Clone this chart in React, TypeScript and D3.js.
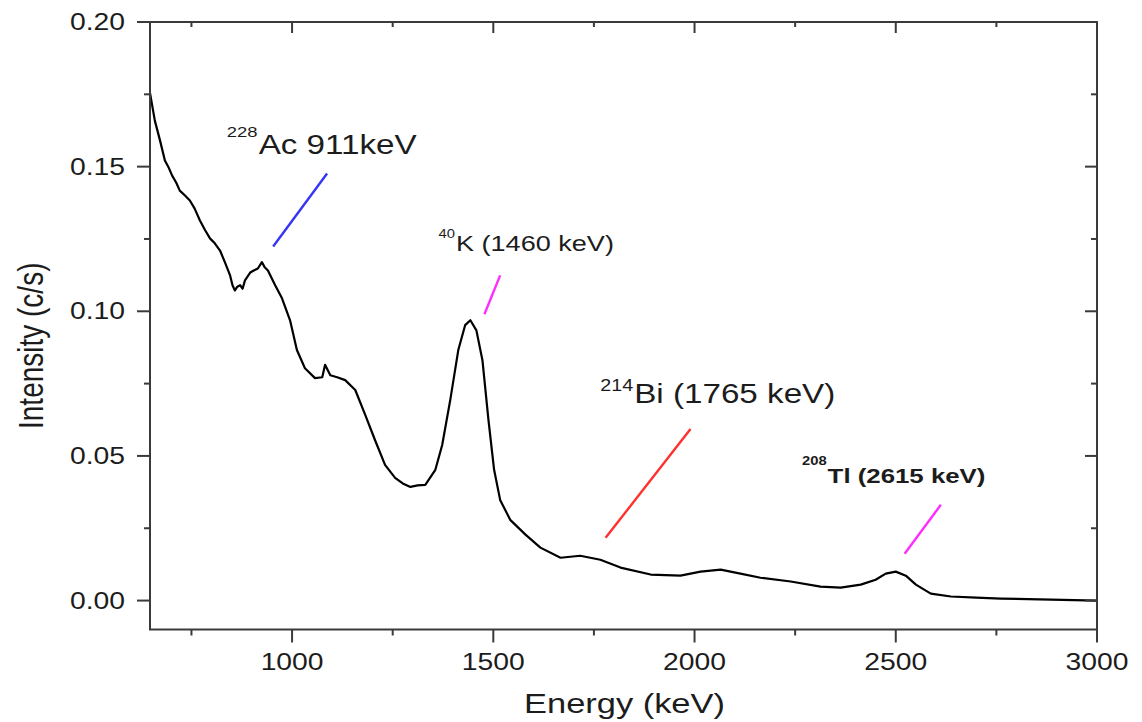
import React from 'react';
import * as d3 from 'd3';

// spectrum: energy (keV) and intensity (c/s)
const energy = [
  647, 659, 672, 684, 694, 702, 712, 721, 734, 746, 758, 771, 784, 796, 808, 821, 833, 846, 852, 858, 864, 871,
  877, 883, 896, 906, 915, 925, 932, 940, 958, 975, 995, 1012, 1032, 1057, 1075, 1082, 1095, 1112, 1132, 1157,
  1182, 1206, 1231, 1256, 1275, 1294, 1312, 1331, 1356, 1373, 1393, 1413, 1430, 1443, 1458, 1473, 1488, 1502,
  1517, 1542, 1580, 1617, 1667, 1716, 1766, 1816, 1891, 1965, 2015, 2065, 2114, 2164, 2239, 2313, 2363, 2413,
  2450, 2475, 2500, 2525, 2550, 2587, 2637, 2700, 2761, 2886, 3000,
];
const intensity = [
  0.1755, 0.1659, 0.159, 0.1521, 0.1495, 0.1469, 0.1445, 0.1417, 0.14, 0.1383, 0.1355, 0.1314, 0.128, 0.1252,
  0.1235, 0.121, 0.117, 0.1124, 0.109, 0.1072, 0.1085, 0.109, 0.1078, 0.1107, 0.1134, 0.1142, 0.1148, 0.117,
  0.1152, 0.1141, 0.109, 0.1045, 0.0969, 0.0866, 0.0803, 0.0769, 0.0772, 0.0815, 0.0779, 0.0772, 0.0762, 0.0728,
  0.0641, 0.0555, 0.0469, 0.0424, 0.0405, 0.0393, 0.0398, 0.04, 0.0452, 0.0538, 0.0693, 0.0866, 0.0952, 0.0969,
  0.0934, 0.0831, 0.0624, 0.0452, 0.0348, 0.0279, 0.0228, 0.0183, 0.0148, 0.0155, 0.0141, 0.0114, 0.009, 0.0086,
  0.01, 0.0107, 0.0093, 0.0079, 0.0066, 0.0048, 0.0045, 0.0055, 0.0072, 0.0093, 0.01, 0.0086, 0.0055, 0.0024,
  0.0014, 0.001, 0.0007, 0.0003, 0.0,
];

const xTickValues = [1000, 1500, 2000, 2500, 3000];
const xMinorValues = [750, 1250, 1750, 2250, 2750];
const yTickValues = [0, 0.05, 0.1, 0.15, 0.2];
const yMinorValues = [0.025, 0.075, 0.125, 0.175];

// leader lines: [x1, y1, x2, y2] in data units, and colour
const leaderNames = ['Ac', 'K', 'Bi', 'Tl'];
const leaderLines = [
  [953, 0.1224, 1087, 0.1476],
  [1478, 0.099, 1517, 0.1124],
  [1779, 0.0217, 1990, 0.0593],
  [2522, 0.0162, 2612, 0.0331],
];
const leaderColors = ['#3535f5', '#ff2cff', '#ff3030', '#ff2cff'];

// labels: isotope mass, text, anchor (keV, c/s)
const labelMass = ['228', '40', '214', '208'];
const labelText = ['Ac 911keV', 'K (1460 keV)', 'Bi (1765 keV)', 'Tl (2615 keV)'];
const labelAnchor = [
  [838, 0.1545],
  [1364, 0.121],
  [1766, 0.0683],
  [2267, 0.0407],
];

const SX = 1.23; // the picture is a bit wider than tall
const FONT = 'Liberation Sans, Arial, sans-serif';

export default function App() {
  const width = 1142;
  const height = 722;
  const left = 150;
  const right = 1097;
  const top = 22;
  const bottom = 629.5;

  const x = d3.scaleLinear().domain([647, 3000]).range([left, right]);
  const y = d3.scaleLinear().domain([-0.01, 0.2]).range([bottom, top]);

  const pts: [number, number][] = energy.map((e, i) => [e, intensity[i]]);
  const line = d3
    .line<[number, number]>()
    .x((d) => x(d[0]))
    .y((d) => y(d[1]))
    .curve(d3.curveLinear);

  const axisColor = '#3a3a3a';
  const textColor = '#1c1c1c';
  const fmt = d3.format('.2f');

  const txt = (
    key: string,
    tx: number,
    ty: number,
    s: string,
    size: number,
    anchor: string = 'start',
    extra: any = {}
  ) => (
    <text
      key={key}
      transform={`translate(${tx},${ty}) scale(${SX},1)`}
      fontSize={size}
      fontFamily={FONT}
      fill={textColor}
      textAnchor={anchor}
      {...extra}
    >
      {s}
    </text>
  );

  // main-label sizes and superscript sizes
  const mainSize = [27, 22, 27, 21];
  const supSize = [15, 12, 16, 12];
  const supDy = [-17, -13, -12, -18];
  const bold = [false, false, false, true];

  return (
    <svg width={width} height={height} style={{ position: 'absolute', left: 0, top: 0, background: '#fff' }}>
      <rect width={width} height={height} fill="#fff" />
      {/* curve */}
      <path d={line(pts) || ''} fill="none" stroke="#000" strokeWidth={2.2} strokeLinejoin="round" />

      {/* frame */}
      <rect x={left} y={top} width={right - left} height={bottom - top} fill="none" stroke={axisColor} strokeWidth={2} />

      {/* x ticks: bottom outward, top inward */}
      {xTickValues.map((v) => (
        <g key={'xt' + v}>
          <line x1={x(v)} x2={x(v)} y1={bottom} y2={bottom + 13} stroke={axisColor} strokeWidth={2} />
          <line x1={x(v)} x2={x(v)} y1={top} y2={top + 11} stroke={axisColor} strokeWidth={2} />
          {txt('xl' + v, x(v), 670, String(v), 23, 'middle')}
        </g>
      ))}
      {xMinorValues.map((v) => (
        <g key={'xm' + v}>
          <line x1={x(v)} x2={x(v)} y1={bottom} y2={bottom + 6} stroke={axisColor} strokeWidth={2} />
          <line x1={x(v)} x2={x(v)} y1={top} y2={top + 5} stroke={axisColor} strokeWidth={2} />
        </g>
      ))}

      {/* y ticks: left outward, right inward */}
      {yTickValues.map((v) => (
        <g key={'yt' + v}>
          <line x1={left - 13} x2={left} y1={y(v)} y2={y(v)} stroke={axisColor} strokeWidth={2} />
          <line x1={right - 12} x2={right} y1={y(v)} y2={y(v)} stroke={axisColor} strokeWidth={2} />
          {txt('yl' + v, left - 25, y(v) + 8, fmt(v), 23, 'end')}
        </g>
      ))}
      {yMinorValues.map((v) => (
        <g key={'ym' + v}>
          <line x1={left - 6} x2={left} y1={y(v)} y2={y(v)} stroke={axisColor} strokeWidth={2} />
          <line x1={right - 6} x2={right} y1={y(v)} y2={y(v)} stroke={axisColor} strokeWidth={2} />
        </g>
      ))}

      {/* axis titles */}
      {txt('xtitle', (left + right) / 2 + 1, 713, 'Energy (keV)', 28, 'middle')}
      <text
        transform={`translate(43,${(top + bottom) / 2 + 20}) scale(${SX},1) rotate(-90)`}
        fontSize={28}
        fontFamily={FONT}
        fill={textColor}
        textAnchor="middle"
      >
        Intensity (c/s)
      </text>

      {/* leader lines */}
      {leaderLines.map((l, i) => (
        <line
          key={leaderNames[i]}
          x1={x(l[0])}
          y1={y(l[1])}
          x2={x(l[2])}
          y2={y(l[3])}
          stroke={leaderColors[i]}
          strokeWidth={2.4}
        />
      ))}

      {/* isotope labels */}
      {labelText.map((t, i) => {
        const ax = x(labelAnchor[i][0]);
        const ay = y(labelAnchor[i][1]);
        const supW = labelMass[i].length * 0.556 * supSize[i] * SX;
        const w = bold[i] ? 'bold' : 'normal';
        return (
          <g key={'lab' + i}>
            {txt('sup' + i, ax, ay + supDy[i], labelMass[i], supSize[i], 'start', { fontWeight: w })}
            {txt('main' + i, ax + supW + 1, ay, t, mainSize[i], 'start', { fontWeight: w })}
          </g>
        );
      })}
    </svg>
  );
}
